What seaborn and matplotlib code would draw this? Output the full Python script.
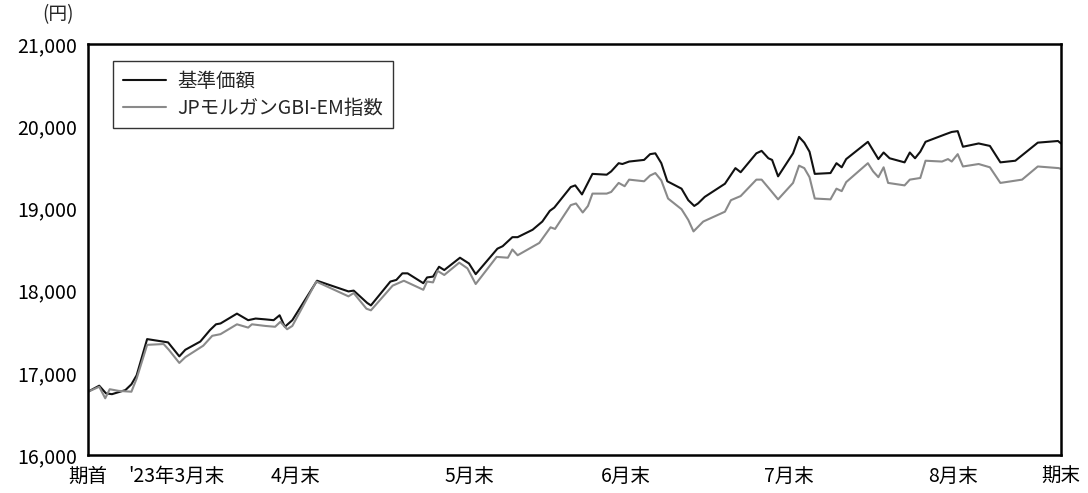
import numpy as np
import pandas as pd
import matplotlib
matplotlib.use("Agg")
import matplotlib.pyplot as plt
import matplotlib.transforms as mtransforms
import seaborn as sns

# 営業日ベースの位置（期首=0, 期末=130）
nav_day = [0, 1.5, 2.4, 3.2, 5.0, 5.8, 6.5, 7.9, 10.7, 12.2, 13.0, 15.0, 16.3, 17.1, 17.7,
           19.9, 21.4, 22.4, 23.7, 24.8, 25.6, 26.3, 27.3, 30.6, 34.8, 35.5, 37.3, 37.8,
           40.4, 41.2, 42.0, 42.7, 44.8, 45.3, 46.1, 46.9, 47.6, 49.7, 50.9, 51.8, 54.7,
           55.4, 56.7, 57.4, 59.4, 60.7, 61.7, 62.3, 64.5, 65.1, 66.0, 67.4, 69.3, 69.9,
           70.9, 71.4, 72.3, 74.3, 75.1, 75.8, 76.6, 77.4, 79.3, 80.2, 81.0, 81.5, 82.4,
           85.1, 86.5, 87.2, 89.3, 90.0, 90.9, 91.4, 92.2, 94.2, 95.0, 95.7, 96.4, 97.1,
           99.2, 100.0, 100.7, 101.3, 104.2, 105.6, 106.3, 107.1, 109.1, 109.8, 110.5,
           111.2, 111.9, 114.5, 115.4, 116.2, 116.9, 119.0, 120.5, 121.9, 123.9, 126.9,
           129.6, 130]
nav = [16770, 16843, 16750, 16740, 16790, 16860, 16970, 17410, 17370, 17200, 17280, 17380,
       17520, 17590, 17600, 17720, 17640, 17660, 17650, 17640, 17700, 17560, 17640, 18120,
       17990, 18000, 17850, 17820, 18110, 18130, 18210, 18210, 18090, 18160, 18170, 18290,
       18250, 18400, 18330, 18200, 18510, 18540, 18650, 18650, 18740, 18840, 18970, 19010,
       19260, 19280, 19170, 19420, 19410, 19450, 19550, 19540, 19570, 19590, 19660, 19670,
       19550, 19330, 19240, 19100, 19030, 19060, 19140, 19300, 19490, 19440, 19670, 19700,
       19610, 19590, 19390, 19670, 19870, 19800, 19690, 19420, 19430, 19550, 19500, 19600,
       19810, 19600, 19680, 19610, 19560, 19680, 19610, 19690, 19810, 19900, 19930, 19940,
       19750, 19790, 19760, 19560, 19580, 19800, 19820, 19790]

idx_day = [0, 1.5, 2.3, 2.9, 4.1, 5.8, 6.5, 7.9, 10.1, 10.8, 12.2, 13.0, 15.4, 16.6, 17.7,
           19.9, 21.4, 21.9, 23.7, 25.0, 25.7, 26.6, 27.3, 30.5, 34.8, 35.5, 37.2, 37.8,
           40.7, 42.2, 44.8, 45.3, 46.1, 46.7, 47.6, 49.6, 50.7, 51.8, 54.6, 56.1, 56.7,
           57.4, 60.3, 61.8, 62.4, 64.5, 65.2, 66.1, 66.8, 67.4, 69.3, 69.9, 70.9, 71.7,
           72.3, 74.3, 75.1, 75.8, 76.6, 77.5, 79.3, 80.2, 80.9, 82.2, 85.1, 85.9, 87.2,
           89.3, 90.0, 91.2, 92.2, 94.2, 95.0, 95.7, 96.4, 97.1, 99.2, 100.0, 100.7, 101.3,
           104.2, 104.9, 105.6, 106.3, 106.9, 109.1, 109.8, 111.2, 111.9, 114.1, 114.9,
           115.4, 116.2, 116.9, 119.0, 120.5, 121.9, 124.8, 126.9, 129.7, 130]
index = [16770, 16830, 16690, 16800, 16780, 16770, 16930, 17340, 17350, 17280, 17120, 17190,
         17330, 17450, 17470, 17590, 17550, 17590, 17570, 17560, 17620, 17530, 17570, 18110,
         17930, 17970, 17780, 17760, 18060, 18120, 18010, 18110, 18100, 18240, 18190, 18340,
         18270, 18080, 18410, 18400, 18500, 18430, 18580, 18770, 18750, 19040, 19060, 18950,
         19030, 19180, 19180, 19200, 19310, 19270, 19350, 19330, 19400, 19430, 19340, 19120,
         18990, 18860, 18720, 18840, 18960, 19100, 19150, 19350, 19350, 19220, 19110, 19310,
         19520, 19490, 19380, 19120, 19110, 19240, 19210, 19320, 19550, 19450, 19380, 19500,
         19310, 19280, 19350, 19370, 19580, 19570, 19600, 19570, 19660, 19510, 19540, 19500,
         19310, 19350, 19510, 19490, 19480]

tick_pos = [0, 8.0, 27.7, 50.9, 71.9, 93.7, 115.6, 130]
tick_labels = ['期首', "'23年3月末", '4月末', '5月末', '6月末', '7月末', '8月末', '期末']
series_names = ['基準価額', 'JPモルガンGBI-EM指数']

df = pd.concat([
    pd.DataFrame({'day': nav_day, 'value': nav, 'series': series_names[0]}),
    pd.DataFrame({'day': idx_day, 'value': index, 'series': series_names[1]}),
])

sns.set_style('white')
plt.rcParams['font.family'] = ['Noto Sans CJK JP', 'DejaVu Sans']

fig = plt.figure(figsize=(10.88, 4.93), dpi=100)
ax = fig.add_axes([88 / 1088, 38 / 493, 973 / 1088, 411 / 493])

sns.lineplot(data=df, x='day', y='value', hue='series', hue_order=series_names,
             palette={series_names[0]: '#111111', series_names[1]: '#8a8a8a'},
             linewidth=1.5, ax=ax, estimator=None, sort=False)

ax.set_xlim(0, 130)
ax.set_ylim(16000, 21000)
ax.set_yticks(range(16000, 21001, 1000))
ax.set_yticklabels([f'{v:,}' for v in range(16000, 21001, 1000)])
ax.set_xticks(tick_pos)
ax.set_xticklabels(tick_labels)
ax.set_xlabel('')
ax.set_ylabel('')
ax.tick_params(axis='both', direction='in', length=5, width=1, colors='black',
               labelsize=14, pad=8)
for lab in ax.get_xticklabels():
    if lab.get_text().startswith("'23"):
        lab.set_transform(lab.get_transform() +
                          mtransforms.ScaledTranslation(28 / 100, 0, fig.dpi_scale_trans))

for s in ax.spines.values():
    s.set_color('black')
    s.set_linewidth(1.8)

leg = ax.legend(loc='upper left', bbox_to_anchor=(0.0257, 0.9586), borderaxespad=0,
                fontsize=14, frameon=True, fancybox=False, edgecolor='black',
                handlelength=2.2, handletextpad=0.6, borderpad=0.5, labelspacing=0.3)
leg.get_frame().set_linewidth(1.0)

fig.text(58 / 1088, 1 - 15 / 493, '(円)', ha='center', va='center', fontsize=13.5)

fig.savefig('out.png', dpi=100)
